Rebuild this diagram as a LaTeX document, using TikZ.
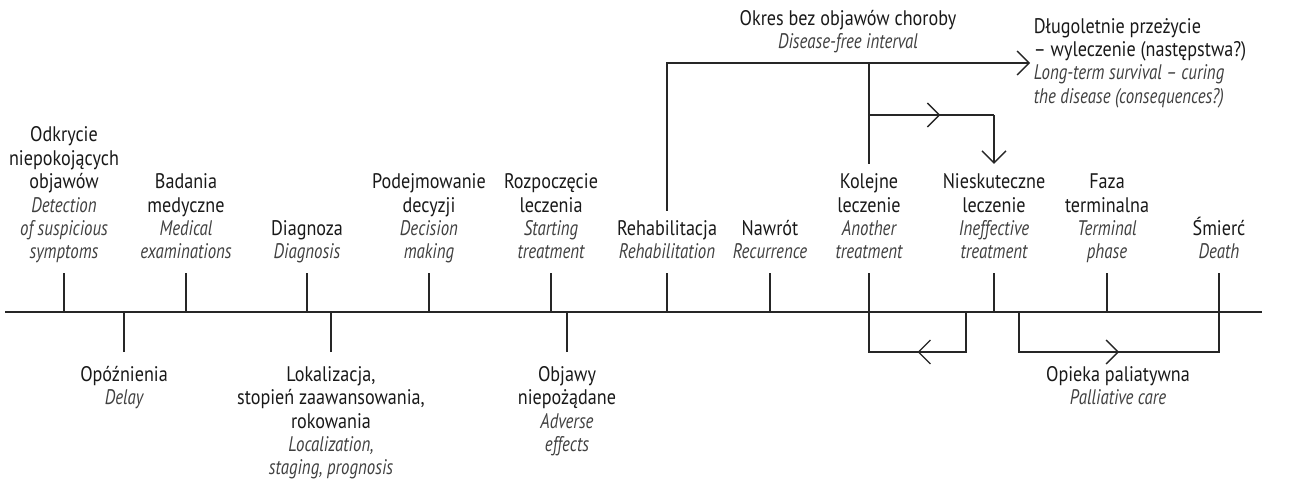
\documentclass[tikz,border=0pt]{standalone}
\usepackage{fontspec}
\setmainfont{PT Sans}[FakeStretch=0.86]
\newfontfamily\enfont{PT Sans}[FakeStretch=0.8]
\usepackage{tikz}
\usetikzlibrary{arrows.meta,decorations.markings,positioning}
\newcommand{\engl}[1]{{\enfont\itshape\color{black!75}#1}}
\tikzset{
  basic/.style = {font=\fontsize{12}{13.3}\selectfont, align=center, text=black!90,
                  inner xsep=2pt, inner ysep=0.19cm, text depth=0.25em},
  stage up/.style = {basic, anchor=south},
  stage down/.style = {basic, anchor=north, inner ysep=0.28cm},
  line/.style = {draw=black!85, line width=0.75pt},
  mid arrow/.style = {postaction={decorate},
                      decoration={markings, mark=at position #1 with {\arrow{>}}}}
}

\begin{document}
\begin{tikzpicture}[x=0.02cm, y=-0.02cm, >={Straight Barb[length=0.24cm, width=0.48cm]}]
\useasboundingbox (0,0) rectangle (1300,484);
% time axis
\coordinate (axL) at (5,312);
\coordinate (axR) at (1262,312);
\draw[line] (axL) -- (axR);

% stages above the axis
\node[stage up] (detect) at (64,273) {Odkrycie\\niepokojących\\objawów\\\engl{Detection}\\\engl{of suspicious}\\\engl{symptoms}};
\node[stage up] (exam) at (186,273) {Badania\\medyczne\\\engl{Medical}\\\engl{examinations}};
\node[stage up] (diag) at (307,273) {Diagnoza\\\engl{Diagnosis}};
\node[stage up] (decide) at (429,273) {Podejmowanie\\decyzji\\\engl{Decision}\\\engl{making}};
\node[stage up] (start) at (551,273) {Rozpoczęcie\\leczenia\\\engl{Starting}\\\engl{treatment}};
\node[stage up] (rehab) at (667,273) {Rehabilitacja\\\engl{Rehabilitation}};
\node[stage up] (relapse) at (770,273) {Nawrót\\\engl{Recurrence}};
\node[stage up] (another) at (869,273) {Kolejne\\leczenie\\\engl{Another}\\\engl{treatment}};
\node[stage up] (ineff) at (994,273) {Nieskuteczne\\leczenie\\\engl{Ineffective}\\\engl{treatment}};
\node[stage up] (term) at (1107,273) {Faza\\terminalna\\\engl{Terminal}\\\engl{phase}};
\node[stage up] (death) at (1219,273) {Śmierć\\\engl{Death}};

% stages below the axis
\node[stage down] (delay) at (124,352) {Opóźnienia\\\engl{Delay}};
\node[stage down] (staging) at (331,352) {Lokalizacja,\\stopień zaawansowania,\\rokowania\\\engl{Localization,}\\\engl{staging, prognosis}};
\node[stage down] (adverse) at (567,352) {Objawy\\niepożądane\\\engl{Adverse}\\\engl{effects}};
\node[stage down] (palliative) at (1118,352) {Opieka paliatywna\\\engl{Palliative care}};

% outcomes on top
\node[stage up] (dfi) at (848,63) {Okres bez objawów choroby\\\engl{Disease-free interval}};
\node[basic, anchor=west, align=left, inner ysep=2pt] (cure) at (1030,63)
  {Długoletnie przeżycie\\– wyleczenie (następstwa?)\\\engl{Long-term survival – curing}\\\engl{the disease (consequences?)}};

% ticks
\foreach \n in {detect,exam,diag,decide,start,rehab,relapse,another,ineff,term,death}
  \draw[line] (\n.south) -- (\n.south |- axL);
\foreach \n in {delay,staging,adverse}
  \draw[line] (\n.north) -- (\n.north |- axL);

% paths after treatment
\coordinate (fork) at (869,115);
\coordinate (back) at (966,312);
\coordinate (care) at (1019,312);
\draw[line,->] (rehab.north) |- (cure.west);
\draw[line] (another.north) -- (another.north |- cure.west);
\draw[line, mid arrow=0.57] (fork) -- (fork -| ineff.north);
\draw[line,->] (fork -| ineff.north) -- (ineff.north);
\draw[line, mid arrow=0.5] (back) -- ++(0,40) -| (another.south |- axL);
\draw[line, mid arrow=0.5] (care) -- ++(0,40) -| (death.south |- axL);
\end{tikzpicture}
\end{document}
